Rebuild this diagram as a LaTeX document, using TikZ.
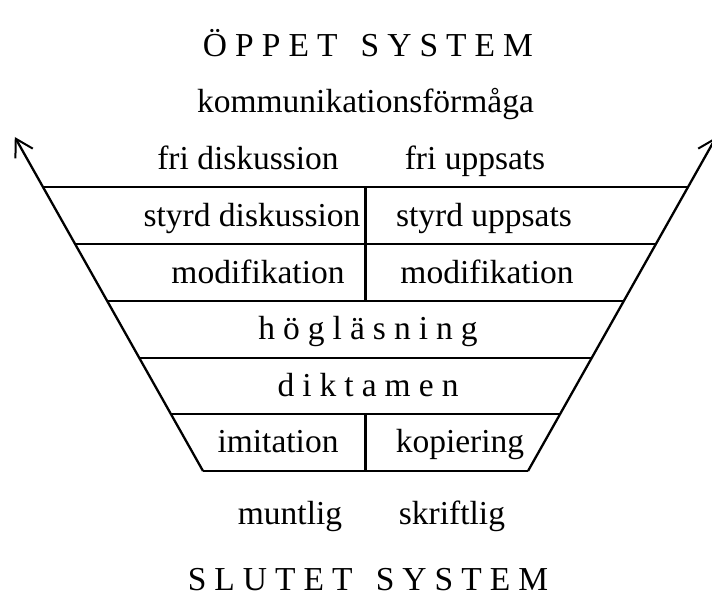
\documentclass[tikz,border=0pt]{standalone}
\usepackage{fontspec}
\setmainfont{Liberation Serif}
\usetikzlibrary{arrows.meta}
\tikzset{
        every node/.style={font=\fontsize{33.5}{40}\selectfont, inner sep=0pt},
        txt/.style={anchor=base},
        spaced/.style={anchor=base, font=\fontsize{33.5}{40}\selectfont\addfontfeature{LetterSpace=24}},
        rim/.style={line width=2.3pt},
        side/.style={line width=2.3pt, -{Straight Barb[length=17pt, width=20pt, line width=2pt]}}
          }
\begin{document}
\begin{tikzpicture}[x=1pt, y=-1pt]
  \useasboundingbox (0,0) rectangle (712,596);
  % left and right edge of every level
  \coordinate (l0) at (43,187);    \coordinate (r0) at (688,187);
  \coordinate (l1) at (75.1,244);  \coordinate (r1) at (655.9,244);
  \coordinate (l2) at (107.2,301); \coordinate (r2) at (623.8,301);
  \coordinate (l3) at (139.3,358); \coordinate (r3) at (591.7,358);
  \coordinate (l4) at (170.9,414); \coordinate (r4) at (560.1,414);
  \coordinate (l5) at (203,471);   \coordinate (r5) at (528,471);
  \coordinate (ltip) at (14.8,137);
  \coordinate (rtip) at (716.2,137);
  \coordinate (m0) at (365.5,187); \coordinate (m2) at (365.5,301);
  \coordinate (m4) at (365.5,414); \coordinate (m5) at (365.5,471);
  % funnel
  \draw[side] (l5) -- (ltip);
  \draw[side] (r5) -- (rtip);
  \foreach \i in {0,...,5}
    \draw[rim] (l\i) -- (r\i);
  \draw[rim] (m0) -- (m2);
  \draw[rim] (m4) -- (m5);
  % texts
  \node[spaced] (open) at (368,57) {ÖPPET \hspace{0.2em}SYSTEM};
  \node[txt] (komm) at (365.5,113) {kommunikationsförmåga};
  \node[txt] (fridisk) at (248,170) {fri diskussion};
  \node[txt] (friupps) at (475,170) {fri uppsats};
  \node[txt] (styrdisk) at (252,226) {styrd diskussion};
  \node[txt] (styrupps) at (484,226) {styrd uppsats};
  \node[txt] (modl) at (258,283) {modifikation};
  \node[txt] (modr) at (487,283) {modifikation};
  \node[spaced] (hogl) at (368,339) {högläsning};
  \node[spaced] (dikt) at (368,396) {diktamen};
  \node[txt] (imit) at (278,452) {imitation};
  \node[txt] (kopi) at (460,452) {kopiering};
  \node[txt] (munt) at (290,524) {muntlig};
  \node[txt] (skri) at (452,524) {skriftlig};
  \node[spaced] (closed) at (368,590) {SLUTET \hspace{0.2em}SYSTEM};
\end{tikzpicture}
\end{document}
